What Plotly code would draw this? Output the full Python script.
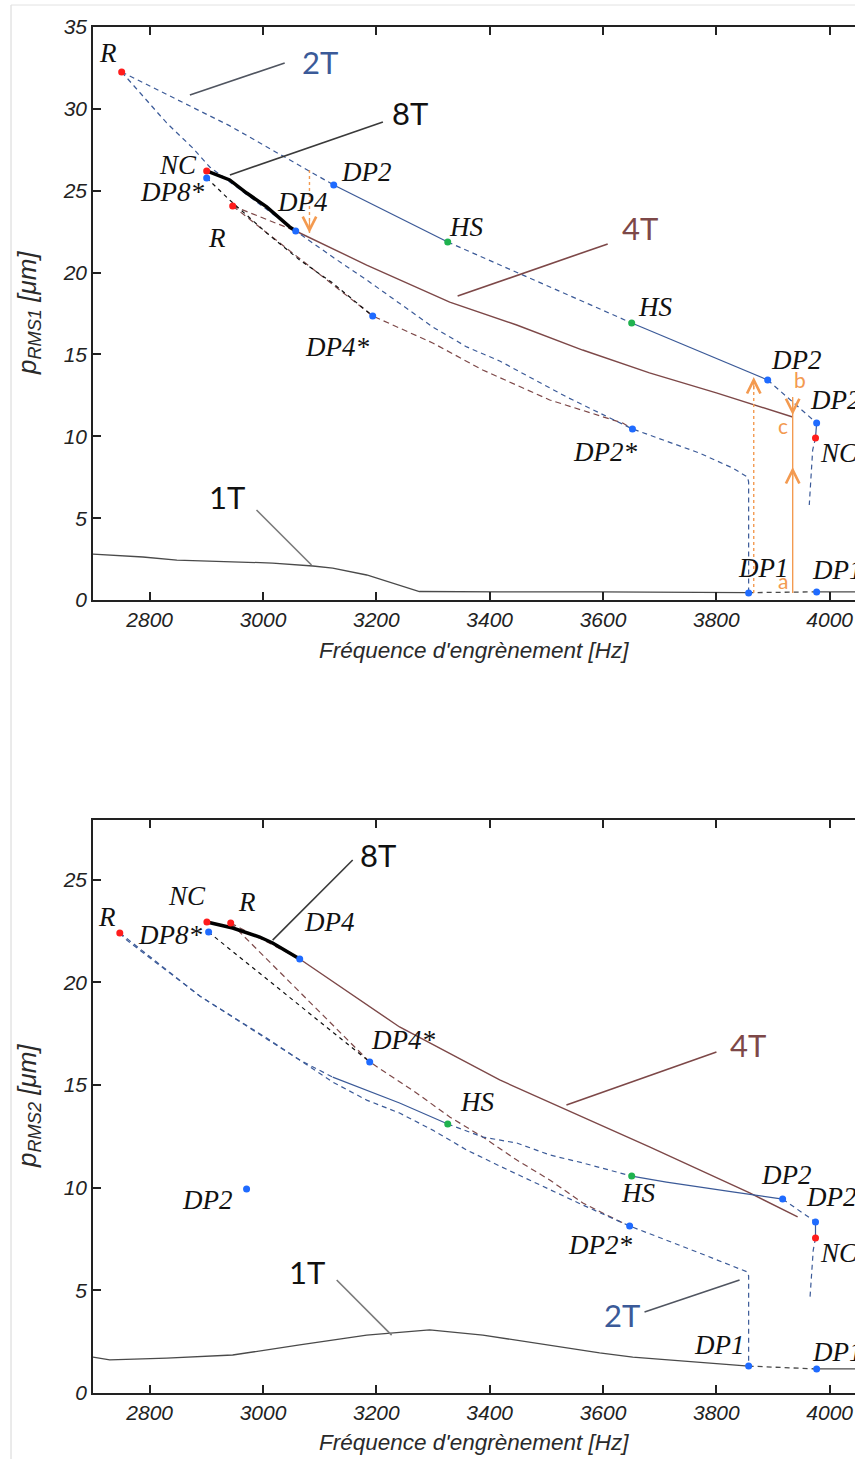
import plotly.graph_objects as go

# ======================= DATA : top panel (p_RMS1) =======================
top_1T_x = [2700, 2788, 2848, 2941, 3017, 3088, 3123, 3183, 3241, 3276, 3418, 3594, 3857]
top_1T_y = [2.81, 2.63, 2.44, 2.32, 2.26, 2.08, 1.95, 1.53, 0.92, 0.52, 0.50, 0.50, 0.45]
top_1T_unst_x = [3857, 3977]
top_1T_unst_y = [0.45, 0.50]
top_1T_end_x = [3977, 4045]
top_1T_end_y = [0.50, 0.50]

# 2T upper branch (alternating unstable / stable pieces)
top_2Tu_d1_x = [2750.6, 2941.6, 3124.8]
top_2Tu_d1_y = [32.25, 28.96, 25.35]
top_2Tu_s1_x = [3124.8, 3326.0]
top_2Tu_s1_y = [25.35, 21.87]
top_2Tu_d2_x = [3326.0, 3650.6]
top_2Tu_d2_y = [21.87, 16.92]
top_2Tu_s2_x = [3650.6, 3890.6]
top_2Tu_s2_y = [16.92, 13.44]
top_2Tu_d3_x = [3890.6, 3977.0]
top_2Tu_d3_y = [13.44, 10.81]
top_2Tu_s3_x = [3977.0, 3975.0]
top_2Tu_s3_y = [10.81, 9.90]
top_2Tu_d4_x = [3975.0, 3970.0, 3964.0]
top_2Tu_d4_y = [9.90, 9.16, 5.80]
# 2T lower branch
top_2Tl_x = [2750.6, 2782.4, 2830, 2876, 2906, 3057.7, 3123, 3183, 3241, 3299.5, 3359.5,
             3417.7, 3536, 3652, 3770, 3829, 3855, 3857, 3857]
top_2Tl_y = [32.25, 31.03, 29.14, 27.61, 26.45, 22.54, 20.95, 19.55, 18.14, 16.68, 15.46,
             14.60, 12.40, 10.45, 8.98, 8.06, 7.51, 7.20, 0.43]
# 4T
top_4T_x = [3057.7, 3183, 3329.5, 3447.7, 3564, 3682, 3800, 3934.7]
top_4T_y = [22.54, 20.46, 18.20, 16.80, 15.27, 13.87, 12.65, 11.18]
top_4Ta_x = [2946.5, 3057.7]
top_4Ta_y = [24.07, 22.54]
top_4Tb_x = [2946.5, 3193.6, 3299.5, 3387.7, 3506, 3634.8, 3652]
top_4Tb_y = [24.07, 17.35, 15.70, 14.05, 12.22, 10.81, 10.45]
# 8T
top_8T_x = [2900.6, 2941.2, 2971.2, 3006.5, 3047, 3057.7]
top_8T_y = [26.21, 25.66, 24.86, 24.01, 22.79, 22.54]
top_8Td_x = [2900.6, 2941.2, 3006.5, 3064.7, 3123, 3193.6]
top_8Td_y = [25.78, 24.43, 22.42, 20.77, 19.36, 17.35]
# bifurcation points
top_red_x = [2750.6, 2900.6, 2946.5, 3975]
top_red_y = [32.25, 26.21, 24.07, 9.90]
top_blue_x = [2900.6, 3057.7, 3124.8, 3193.6, 3652, 3890.6, 3977, 3857, 3977]
top_blue_y = [25.78, 22.54, 25.35, 17.35, 10.45, 13.44, 10.81, 0.43, 0.49]
top_green_x = [3326, 3650.6]
top_green_y = [21.87, 16.92]

# ======================= DATA : bottom panel (p_RMS2) =======================
bot_1T_x = [2700, 2729.5, 2830, 2946.5, 3064.8, 3183, 3241, 3294, 3388, 3506, 3594, 3652.5, 3770, 3857]
bot_1T_y = [1.75, 1.61, 1.70, 1.85, 2.34, 2.82, 2.95, 3.07, 2.82, 2.34, 1.95, 1.75, 1.50, 1.31]
bot_1T_unst_x = [3857, 3977]
bot_1T_unst_y = [1.31, 1.17]
bot_1T_end_x = [3977, 4045]
bot_1T_end_y = [1.17, 1.17]

bot_2Tu_d1_x = [2747.3, 2759.5, 2888.3, 2946.5, 3006.5, 3064.8, 3123]
bot_2Tu_d1_y = [22.40, 22.05, 19.33, 18.31, 17.28, 16.21, 15.38]
bot_2Tu_s1_x = [3123, 3183, 3241, 3326]
bot_2Tu_s1_y = [15.38, 14.75, 14.12, 13.10]
bot_2Tu_d2_x = [3326, 3388, 3448, 3506, 3564.5, 3650.6]
bot_2Tu_d2_y = [13.10, 12.46, 12.17, 11.59, 11.20, 10.56]
bot_2Tu_s2_x = [3650.6, 3712, 3828.6, 3917]
bot_2Tu_s2_y = [10.56, 10.27, 9.79, 9.44]
bot_2Tu_d3_x = [3917, 3975]
bot_2Tu_d3_y = [9.44, 8.33]
bot_2Tu_s3_x = [3975, 3975]
bot_2Tu_s3_y = [8.33, 7.55]
bot_2Tu_d4_x = [3975, 3971, 3965]
bot_2Tu_d4_y = [7.55, 6.96, 4.53]
bot_2Tl_x = [2747.3, 2888.3, 3064.8, 3123, 3183, 3241, 3299.5, 3359.5, 3417.7, 3564.5, 3647,
             3712, 3770, 3855, 3857, 3857]
bot_2Tl_y = [22.40, 19.33, 16.21, 15.14, 14.26, 13.63, 12.80, 11.83, 11.05, 9.15, 8.13,
             7.45, 6.82, 5.89, 5.70, 1.31]

bot_4T_x = [3064.8, 3241, 3417.7, 3682, 3858.8, 3943.5]
bot_4T_y = [21.13, 17.82, 15.24, 11.98, 9.74, 8.57]
bot_4Ta_x = [2943, 3064.8]
bot_4Ta_y = [22.88, 21.13]
bot_4Tb_x = [2943, 3188.3, 3270.8, 3329.5, 3388, 3448, 3506, 3564.5, 3624.5, 3647]
bot_4Tb_y = [22.88, 16.12, 14.61, 13.44, 12.46, 11.34, 10.37, 9.25, 8.42, 8.13]

bot_8T_x = [2901, 2946.5, 2994.2, 3017, 3064.8]
bot_8T_y = [22.93, 22.64, 22.20, 21.91, 21.13]
bot_8Td_x = [2904, 3188.3]
bot_8Td_y = [22.44, 16.12]

bot_red_x = [2747.3, 2901, 2943, 3975]
bot_red_y = [22.40, 22.93, 22.88, 7.55]
bot_blue_x = [2904, 3064.8, 3188.3, 3647, 3917, 3975, 3857, 3977, 2971]
bot_blue_y = [22.44, 21.13, 16.12, 8.13, 9.44, 8.33, 1.31, 1.17, 9.93]
bot_green_x = [3326, 3650.6]
bot_green_y = [13.10, 10.56]

# point labels
top_lab_text = ["R", "NC", "DP8*", "R", "DP4", "DP2", "HS", "HS", "DP4*", "DP2*", "DP2", "DP1"]
top_lab_x = [2726, 2850, 2839, 2918.6, 3070.5, 3182.6, 3359, 3690.9, 3130, 3602.8, 3941.5, 3882.5]
top_lab_y = [33.41, 26.57, 24.92, 22.11, 24.31, 26.15, 22.79, 17.90, 15.46, 9.04, 14.66, 1.95]
top_edge_text = ["DP2", "NC", "DP1"]
top_edge_x = [3961, 3980, 3965]
top_edge_y = [12.22, 8.98, 1.83]

bot_lab_text = ["R", "NC", "R", "DP8*", "DP4", "DP4*", "HS", "HS", "DP2*", "DP2", "DP1", "DP2"]
bot_lab_x = [2724, 2865.7, 2971, 2835.5, 3117.7, 3247.5, 3377, 3661.5, 3594, 3924, 3806, 2902.5]
bot_lab_y = [23.17, 24.2, 23.9, 22.30, 22.93, 17.19, 14.17, 9.74, 7.21, 10.61, 2.34, 9.40]
bot_edge_text = ["DP2", "NC", "DP1"]
bot_edge_x = [3955.5, 3980, 3966]
bot_edge_y = [9.54, 6.82, 2.0]

# curve-family callouts: (label, text pos, leader start, leader end)
top_fam = ["2T", "8T", "4T", "1T"]
top_fam_tx = [3100.6, 3259, 3664.7, 2936]
top_fam_ty = [32.87, 29.75, 22.72, 6.29]
top_fam_x0 = [3038.3, 3211.6, 3608.3, 2988.5]
top_fam_y0 = [32.80, 29.20, 21.75, 5.50]
top_fam_x1 = [2871, 2941.6, 3343.5, 3085.6]
top_fam_y1 = [30.85, 25.96, 18.57, 2.14]

bot_fam = ["8T", "4T", "2T", "1T"]
bot_fam_tx = [3202.4, 3855, 3632.8, 3076.8]
bot_fam_ty = [26.19, 16.94, 3.80, 5.89]
bot_fam_x0 = [3158.3, 3800.2, 3841, 3130]
bot_fam_y0 = [25.95, 16.60, 5.50, 5.50]
bot_fam_x1 = [3017, 3535.5, 3673.3, 3227]
bot_fam_y1 = [22.05, 14.02, 3.94, 2.82]

# orange jump arrows (top panel)
jump_x = [3082, 3866, 3934.7]
jump_y0 = [26.27, 0.43, 0.43]
jump_y1 = [22.42, 13.62, 12.40]
abc_text = ["a", "b", "c"]
abc_x = [3917, 3947, 3917]
abc_y = [1.22, 13.44, 10.69]

# ======================= STYLE =======================
C2T = "#3B5A98"
C4T = "#7D4848"
C1T = "#4A4A4A"
RED = "#FF1C1C"
BLUE = "#1F6BFF"
GREEN = "#1FB24F"
ORANGE = "#F39A50"
AX = "#222222"
D2T = "5px,4px"
D4T = "6px,4px"
D8T = "4px,4px"

fig = go.Figure()


def line(xs, ys, color, width, dash="solid", panel=1):
    fig.add_trace(go.Scatter(
        x=xs, y=ys, mode="lines", hoverinfo="skip",
        line=dict(color=color, width=width, dash=dash),
        xaxis="x" if panel == 1 else "x2", yaxis="y" if panel == 1 else "y2"))


def pts(xs, ys, color, panel=1):
    fig.add_trace(go.Scatter(
        x=xs, y=ys, mode="markers", hoverinfo="skip",
        marker=dict(color=color, size=7, line=dict(width=0)),
        xaxis="x" if panel == 1 else "x2", yaxis="y" if panel == 1 else "y2"))


# ---- top panel curves
line(top_1T_x, top_1T_y, C1T, 1.3)
line(top_1T_unst_x, top_1T_unst_y, C1T, 1.3, D2T)
line(top_1T_end_x, top_1T_end_y, C1T, 1.3)
line(top_4T_x, top_4T_y, C4T, 1.4)
line(top_4Ta_x, top_4Ta_y, C4T, 1.2, D4T)
line(top_4Tb_x, top_4Tb_y, C4T, 1.2, D4T)
line(top_8Td_x, top_8Td_y, "#111111", 1.2, D8T)
line(top_2Tl_x, top_2Tl_y, C2T, 1.2, D2T)
for xs, ys, d in [(top_2Tu_d1_x, top_2Tu_d1_y, D2T), (top_2Tu_s1_x, top_2Tu_s1_y, "solid"),
                  (top_2Tu_d2_x, top_2Tu_d2_y, D2T), (top_2Tu_s2_x, top_2Tu_s2_y, "solid"),
                  (top_2Tu_d3_x, top_2Tu_d3_y, D2T), (top_2Tu_s3_x, top_2Tu_s3_y, "solid"),
                  (top_2Tu_d4_x, top_2Tu_d4_y, D2T)]:
    line(xs, ys, C2T, 1.2, d)
line(top_8T_x, top_8T_y, "#000000", 3.5)
pts(top_red_x, top_red_y, RED)
pts(top_blue_x, top_blue_y, BLUE)
pts(top_green_x, top_green_y, GREEN)

# ---- bottom panel curves
line(bot_1T_x, bot_1T_y, C1T, 1.3, panel=2)
line(bot_1T_unst_x, bot_1T_unst_y, C1T, 1.3, D2T, panel=2)
line(bot_1T_end_x, bot_1T_end_y, C1T, 1.3, panel=2)
line(bot_4T_x, bot_4T_y, C4T, 1.4, panel=2)
line(bot_4Ta_x, bot_4Ta_y, C4T, 1.2, D4T, panel=2)
line(bot_4Tb_x, bot_4Tb_y, C4T, 1.2, D4T, panel=2)
line(bot_8Td_x, bot_8Td_y, "#111111", 1.2, D8T, panel=2)
line(bot_2Tl_x, bot_2Tl_y, C2T, 1.2, D2T, panel=2)
for xs, ys, d in [(bot_2Tu_d1_x, bot_2Tu_d1_y, D2T), (bot_2Tu_s1_x, bot_2Tu_s1_y, "solid"),
                  (bot_2Tu_d2_x, bot_2Tu_d2_y, D2T), (bot_2Tu_s2_x, bot_2Tu_s2_y, "solid"),
                  (bot_2Tu_d3_x, bot_2Tu_d3_y, D2T), (bot_2Tu_s3_x, bot_2Tu_s3_y, "solid"),
                  (bot_2Tu_d4_x, bot_2Tu_d4_y, D2T)]:
    line(xs, ys, C2T, 1.2, d, panel=2)
line(bot_8T_x, bot_8T_y, "#000000", 3.5, panel=2)
pts(bot_red_x, bot_red_y, RED, 2)
pts(bot_blue_x, bot_blue_y, BLUE, 2)
pts(bot_green_x, bot_green_y, GREEN, 2)

annotations = []
shapes = []
SERIF = "Liberation Serif"
SANS = "Lato"


def lab(text, x, y, panel, xanchor="center"):
    annotations.append(dict(
        text="<i>%s</i>" % text, x=x, y=y, xanchor=xanchor, yanchor="middle",
        xref="x" if panel == 1 else "x2", yref="y" if panel == 1 else "y2",
        showarrow=False, font=dict(family=SERIF, size=27, color="#111111")))


for t, x, y in zip(top_lab_text, top_lab_x, top_lab_y):
    lab(t, x, y, 1)
for t, x, y in zip(top_edge_text, top_edge_x, top_edge_y):
    lab(t, x, y, 1, "left")
for t, x, y in zip(bot_lab_text, bot_lab_x, bot_lab_y):
    lab(t, x, y, 2)
for t, x, y in zip(bot_edge_text, bot_edge_x, bot_edge_y):
    lab(t, x, y, 2, "left")

FAM_COL = {"2T": C2T, "4T": C4T, "8T": "#111111", "1T": "#111111"}
LEAD_COL = {"2T": "#505560", "4T": C4T, "8T": "#3a3a3a", "1T": "#7a7a7a"}


def family(names, tx, ty, x0, y0, x1, y1, panel):
    xr = "x" if panel == 1 else "x2"
    yr = "y" if panel == 1 else "y2"
    for n, a, b, c, d, e, f in zip(names, tx, ty, x0, y0, x1, y1):
        annotations.append(dict(text=n, x=a, y=b, xref=xr, yref=yr, showarrow=False,
                                xanchor="center", yanchor="middle",
                                font=dict(family=SANS, size=31, color=FAM_COL[n])))
        shapes.append(dict(type="line", xref=xr, yref=yr, x0=c, y0=d, x1=e, y1=f,
                           line=dict(color=LEAD_COL[n], width=1.6)))


family(top_fam, top_fam_tx, top_fam_ty, top_fam_x0, top_fam_y0, top_fam_x1, top_fam_y1, 1)
family(bot_fam, bot_fam_tx, bot_fam_ty, bot_fam_x0, bot_fam_y0, bot_fam_x1, bot_fam_y1, 2)

# orange jump arrows
jump_dash = ["dot", "dot", "solid"]
for x, y0, y1, d in zip(jump_x, jump_y0, jump_y1, jump_dash):
    shapes.append(dict(type="line", xref="x", yref="y", x0=x, x1=x, y0=y0, y1=y1,
                       line=dict(color=ORANGE, width=1.4, dash=d)))


def head(x, y, up):
    annotations.append(dict(text="", x=x, y=y, xref="x", yref="y", ax=0, ay=14 if up else -14,
                            showarrow=True, arrowhead=5, arrowsize=2.2, arrowwidth=1.2,
                            arrowcolor=ORANGE, standoff=0))


head(jump_x[0], jump_y1[0], False)   # jump down to 4T
head(jump_x[1], jump_y1[1], True)    # jump up to 2T
head(jump_x[2], 8.12, True)          # a -> b
head(jump_x[2], 11.30, False)        # b -> c
for t, x, y in zip(abc_text, abc_x, abc_y):
    annotations.append(dict(text=t, x=x, y=y, xref="x", yref="y", showarrow=False,
                            font=dict(family=SANS, size=21, color=ORANGE)))

# axis titles
XT = "<i>Fréquence d'engrènement [Hz]</i>"
tfont = dict(family="Liberation Sans", size=22.5, color="#2a2a2a")
yfont = dict(family="Liberation Sans", size=26, color="#2a2a2a")
annotations.append(dict(text=XT, x=0.5, y=0.5439, xref="paper", yref="paper",
                        showarrow=False, yanchor="middle", font=tfont))
annotations.append(dict(text=XT, x=0.5, y=-0.0366, xref="paper", yref="paper",
                        showarrow=False, yanchor="middle", font=tfont))
annotations.append(dict(text="<i>p</i><sub><i>RMS1</i></sub><i> [μm]</i>", x=-0.0853, y=0.7906,
                        xref="paper", yref="paper", showarrow=False, textangle=-90,
                        xanchor="center", yanchor="middle", font=yfont))
annotations.append(dict(text="<i>p</i><sub><i>RMS2</i></sub><i> [μm]</i>", x=-0.0853, y=0.2101,
                        xref="paper", yref="paper", showarrow=False, textangle=-90,
                        xanchor="center", yanchor="middle", font=yfont))

# light page frame
shapes.append(dict(type="line", xref="paper", yref="paper", x0=-0.1076, x1=-0.1076, y0=1.0161, y1=-0.06,
                   line=dict(color="#dddddd", width=1.2)))
shapes.append(dict(type="line", xref="paper", yref="paper", x0=-0.1076, x1=1.0, y0=1.0161, y1=1.0161,
                   line=dict(color="#e2e2e2", width=1.0)))

tickfont = dict(family="Liberation Sans", size=21, color=AX, style="italic")
xcommon = dict(range=[2700, 4044.7], tickmode="linear", tick0=2800, dtick=200,
               ticks="inside", ticklen=8, tickwidth=1.5, tickcolor=AX,
               showline=True, linecolor=AX, linewidth=1.5, mirror="ticks",
               showgrid=False, zeroline=False, tickfont=tickfont, automargin=False)
ycommon = dict(tickmode="linear", tick0=0, dtick=5, ticks="inside", ticklen=8, tickwidth=1.5,
               tickcolor=AX, showline=True, linecolor=AX, linewidth=1.5, mirror=False,
               showgrid=False, zeroline=False, tickfont=tickfont, automargin=False)

fig.update_layout(
    width=855, height=1459,
    margin=dict(l=93, r=0, t=27, b=66, autoexpand=False),
    paper_bgcolor="white", plot_bgcolor="white",
    showlegend=False,
    xaxis=dict(domain=[0, 1], anchor="y", **xcommon),
    yaxis=dict(domain=[0.5805, 1], anchor="x", range=[0, 35], **ycommon),
    xaxis2=dict(domain=[0, 1], anchor="y2", **xcommon),
    yaxis2=dict(domain=[0, 0.4195], anchor="x2", range=[0, 27.9], **ycommon),
    annotations=annotations,
    shapes=shapes,
)

# remove the default 8px body margin so the figure sits at the page origin
fig.write_html("out.html",
               config={"displayModeBar": False},
               post_script="document.body.style.margin='0px';document.body.style.overflow='hidden';")
